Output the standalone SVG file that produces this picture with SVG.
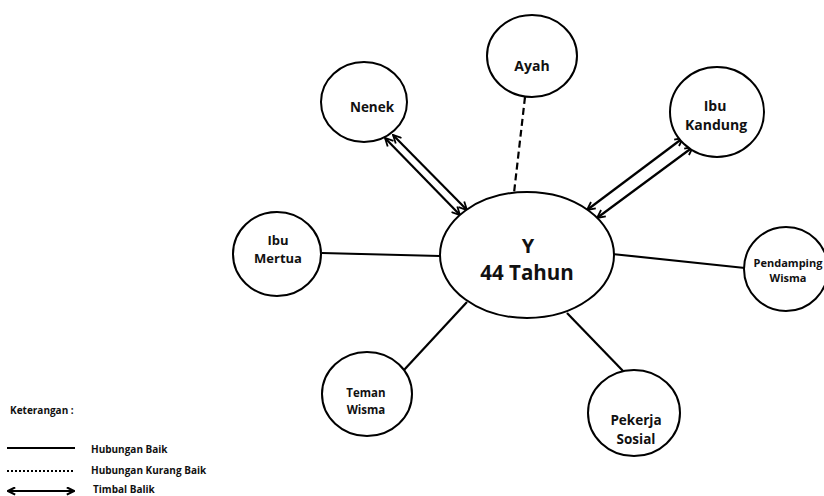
<svg xmlns="http://www.w3.org/2000/svg" width="824" height="496" viewBox="0 0 824 496">
<style>
.node{fill:#fff;stroke:#000;stroke-width:2}
.t{font-family:"Open Sans","Noto Sans",sans-serif;font-weight:700;fill:#111;text-anchor:middle}
.ln{stroke:#000;stroke-width:2.2;fill:none}
.lg{font-family:"Open Sans","Noto Sans",sans-serif;font-weight:700;fill:#111;font-size:10px}
</style>
<defs>
<marker id="ah" viewBox="0 0 10 10" refX="9" refY="5" markerWidth="10" markerHeight="10" markerUnits="userSpaceOnUse" orient="auto-start-reverse">
<path d="M1,1 L9,5 L1,9" fill="none" stroke="#000" stroke-width="1.8"/>
</marker>
<marker id="ah2" viewBox="0 0 10 10" refX="9" refY="5" markerWidth="9" markerHeight="9" markerUnits="userSpaceOnUse" orient="auto-start-reverse">
<path d="M1,1 L9,5 L1,9" fill="none" stroke="#000" stroke-width="2.4"/>
</marker>
</defs>
<rect width="824" height="496" fill="#fff"/>
<g id="connectors">
<line class="ln" x1="525" y1="97" x2="514" y2="193" stroke-dasharray="7 4" stroke-width="2.5"/>
<line class="ln" x1="322" y1="253" x2="440" y2="256"/>
<line class="ln" x1="612" y1="254" x2="745" y2="268"/>
<line class="ln" x1="467" y1="302" x2="404" y2="370"/>
<line class="ln" x1="567" y1="313" x2="624" y2="372"/>
<line class="ln" x1="385" y1="138" x2="460" y2="215" marker-start="url(#ah)" marker-end="url(#ah)"/>
<line class="ln" x1="393" y1="135" x2="467" y2="210" marker-start="url(#ah)" marker-end="url(#ah)"/>
<line class="ln" x1="587" y1="210" x2="683" y2="138" marker-start="url(#ah)" marker-end="url(#ah)"/>
<line class="ln" x1="597" y1="218" x2="693" y2="147" marker-start="url(#ah)" marker-end="url(#ah)"/>
</g>
<g id="node-y">
<ellipse class="node" cx="527" cy="255" rx="87" ry="63"/>
<text class="t" x="528" y="253" font-size="20">Y</text>
<text class="t" x="527" y="280" font-size="20.5">44 Tahun</text>
</g>
<g id="node-ayah">
<ellipse class="node" cx="532" cy="56" rx="45" ry="41"/>
<text class="t" x="532" y="71" font-size="14">Ayah</text>
</g>
<g id="node-nenek">
<ellipse class="node" cx="364" cy="102" rx="43" ry="40"/>
<text class="t" x="372" y="112" font-size="13.5">Nenek</text>
</g>
<g id="node-ibu-kandung">
<ellipse class="node" cx="717" cy="112" rx="47" ry="45"/>
<text class="t" x="715" y="111" font-size="14">Ibu</text>
<text class="t" x="716" y="130" font-size="14">Kandung</text>
</g>
<g id="node-pendamping">
<ellipse class="node" cx="786" cy="269" rx="42" ry="42"/>
<text class="t" x="788" y="267" font-size="11">Pendamping</text>
<text class="t" x="788" y="282" font-size="11">Wisma</text>
</g>
<g id="node-ibu-mertua">
<ellipse class="node" cx="277" cy="254" rx="44" ry="42"/>
<text class="t" x="278" y="245" font-size="13">Ibu</text>
<text class="t" x="278" y="263" font-size="13">Mertua</text>
</g>
<g id="node-teman-wisma">
<ellipse class="node" cx="367" cy="394" rx="45" ry="42"/>
<text class="t" x="366" y="397" font-size="11.5">Teman</text>
<text class="t" x="366" y="414" font-size="11.5">Wisma</text>
</g>
<g id="node-pekerja-sosial">
<ellipse class="node" cx="634" cy="413" rx="46" ry="43"/>
<text class="t" x="636" y="425" font-size="13.5">Pekerja</text>
<text class="t" x="636" y="444" font-size="13.5">Sosial</text>
</g>
<g id="legend">
<text class="lg" x="10" y="414">Keterangan :</text>
<line x1="7" y1="448" x2="75" y2="448" stroke="#000" stroke-width="2"/>
<text class="lg" x="91" y="453">Hubungan Baik</text>
<line x1="7" y1="471" x2="75" y2="471" stroke="#000" stroke-width="2" stroke-dasharray="2 2"/>
<text class="lg" x="91" y="474">Hubungan Kurang Baik</text>
<line x1="8" y1="491" x2="74" y2="491" stroke="#000" stroke-width="2.2" marker-start="url(#ah2)" marker-end="url(#ah2)"/>
<text class="lg" x="93" y="493">Timbal Balik</text>
</g>
</svg>
